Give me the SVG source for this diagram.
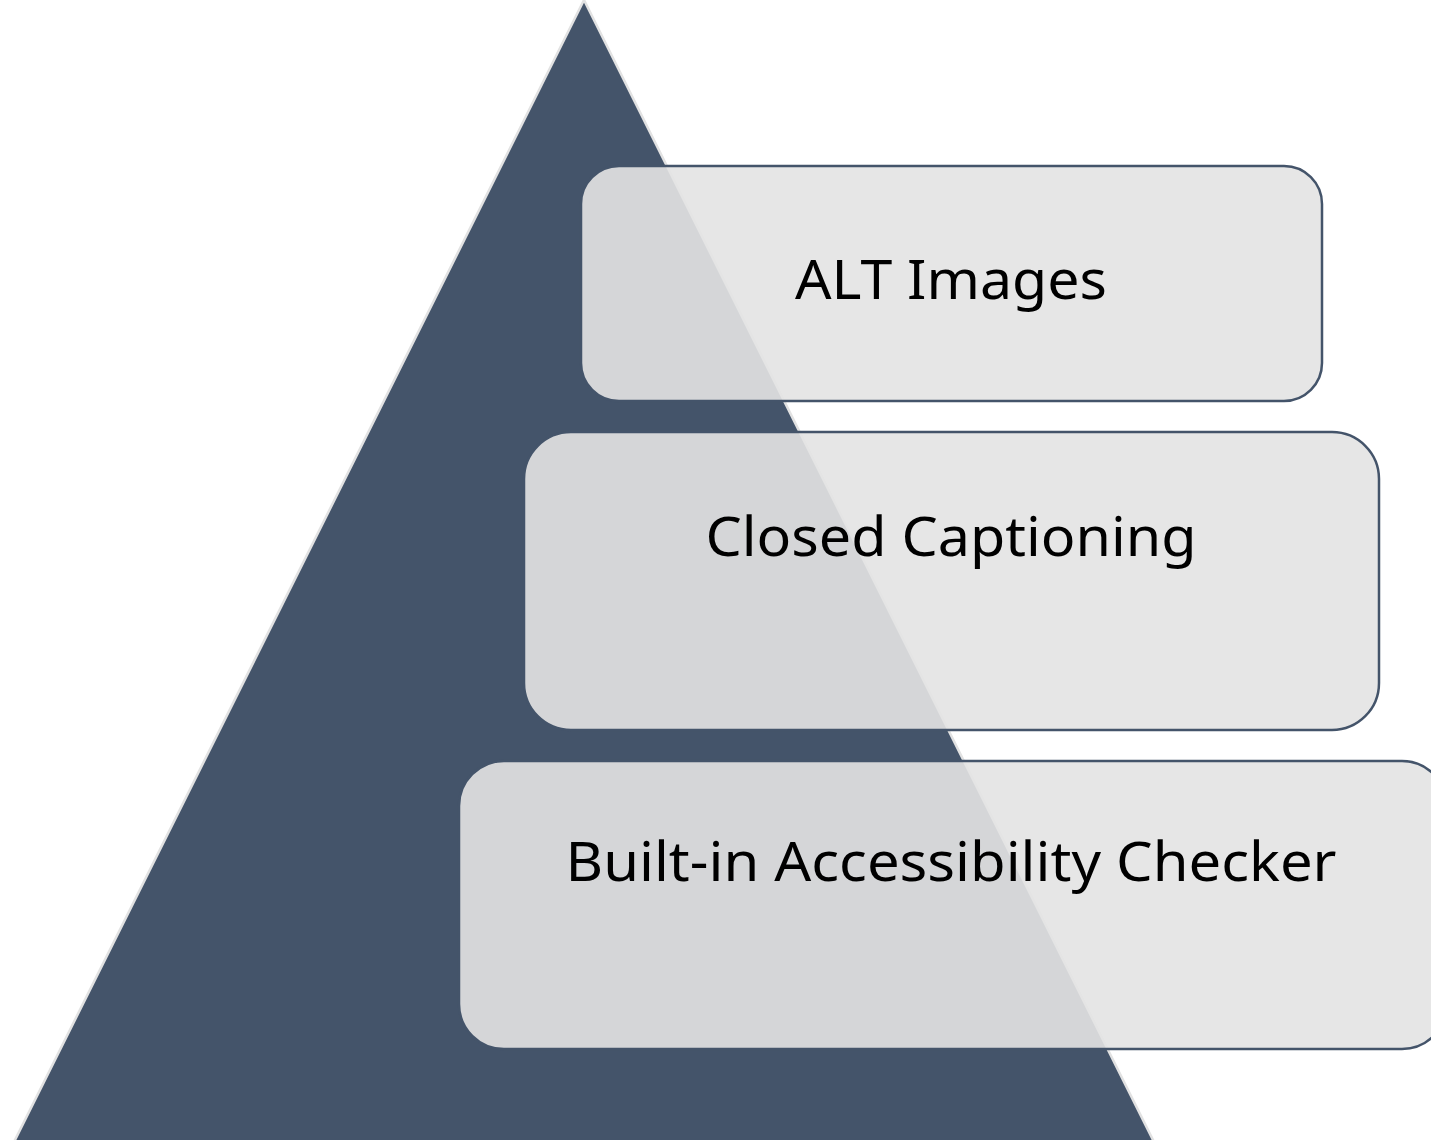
<svg xmlns="http://www.w3.org/2000/svg" width="1431" height="1140" viewBox="0 0 1431 1140">
<style>
.box{fill:#E4E4E4;fill-opacity:0.91;stroke:#44546A;stroke-width:2.5}
.lbl{font-family:"Noto Sans","Liberation Sans",sans-serif;font-size:55px;fill:#000;text-anchor:middle}
</style>
<rect width="1431" height="1140" fill="#FFFFFF"/>
<g id="pyramid">
<polygon points="584,0 1154,1142 14,1142" fill="#44546A" stroke="#E2E2E2" stroke-width="2.5"/>
</g>
<g id="connectors"></g>
<g id="node-alt">
<rect class="box" x="581" y="166" width="741" height="235" rx="38"/>
<text class="lbl" x="951" y="299" textLength="312" lengthAdjust="spacingAndGlyphs">ALT Images</text>
</g>
<g id="node-cc">
<rect class="box" x="524" y="432" width="855" height="298" rx="47"/>
<text class="lbl" x="951" y="556" textLength="491" lengthAdjust="spacingAndGlyphs">Closed Captioning</text>
</g>
<g id="node-checker">
<rect class="box" x="459" y="761" width="988" height="288" rx="45"/>
<text class="lbl" x="951" y="881" textLength="771" lengthAdjust="spacingAndGlyphs">Built-in Accessibility Checker</text>
</g>
</svg>
